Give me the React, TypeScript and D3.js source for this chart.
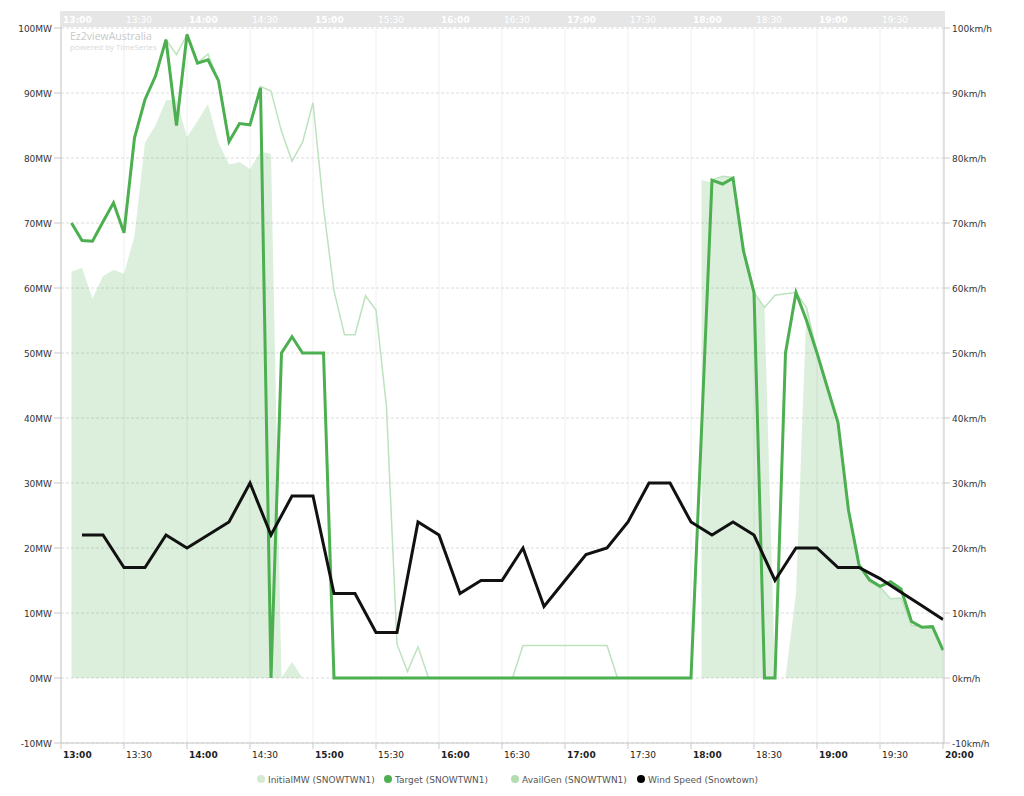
import React from "react";
import * as d3 from "d3";

// ---------- DATA ----------
// 5-minute series, first slot 13:05, last slot 20:00 (84 slots)
const SERIES_START_MIN = 5; // minutes after 13:00
const SERIES_STEP_MIN = 5;

const targetMW: number[] = [
  70, 67.3, 67.2, 70.2, 73.1, 68.5, 83.1, 89, 92.6, 98.2, 85, 99, // 13:05-14:00
  94.6, 95.1, 91.9, 82.5, 85.3, 85.1, 90.8, 0, 50, 52.5, 50, 50, // 14:05-15:00
  50, 0, 0, 0, 0, 0, 0, 0, 0, 0, 0, 0, // 15:05-16:00
  0, 0, 0, 0, 0, 0, 0, 0, 0, 0, 0, 0, // 16:05-17:00
  0, 0, 0, 0, 0, 0, 0, 0, 0, 0, 0, 0, // 17:05-18:00
  38, 76.6, 76, 76.9, 65.7, 59.3, 0, 0, 50, 59.3, 55, 50, // 18:05-19:00
  44.6, 39.3, 25.8, 17.4, 15.1, 14.1, 14.8, 13.7, 8.7, 7.8, 7.9, 4.3, // 19:05-20:00
];

const initialMW: number[] = [
  70, 67.3, 67.2, 70.2, 73.1, 68.5, 83.1, 89, 92.6, 98.2, 95.9, 99,
  94.6, 96, 91.9, 82.5, 85.3, 85.1, 91, 90.3, 84.1, 79.5, 82.4, 88.5,
  72.4, 59.6, 52.8, 52.8, 58.8, 56.6, 41.7, 5.2, 1, 4.8, 0, 0,
  0, 0, 0, 0, 0, 0, 0, 5, 5, 5, 5, 5,
  5, 5, 5, 5, 0, 0, 0, 0, 0, 0, 0, 0,
  38, 76.6, 77.2, 77, 65.7, 59.3, 57, 58.9, 59.1, 59.3, 57, 50,
  45, 39.3, 25.8, 17.4, 14.8, 14, 12.2, 12.3, 8.1, 7.9, 7.9, 4.3,
];

const availGenMW: (number | null)[] = [
  62.5, 63.1, 58.4, 61.8, 62.8, 62.2, 68, 82.4, 85, 88.9, 89, 83.2,
  85.7, 88.3, 82.4, 79, 79.4, 78.3, 81, 80.6, 0, 2.5, 0, null,
  null, null, null, null, null, null, null, null, null, null, null, null,
  null, null, null, null, null, null, null, null, null, null, null, null,
  null, null, null, null, null, null, null, null, null, null, null, null,
  76.6, 76.2, 77.2, 77, 65.7, 59.5, 57, 0, 0, 13, 57, 50,
  45, 39.3, 25.8, 17.4, 14.8, 14, 12.2, 12.3, 8.1, 7.9, 7.9, 4.3,
];

// wind speed every 10 minutes, 13:10 -> 20:00
const WIND_START_MIN = 10;
const WIND_STEP_MIN = 10;
const windSpeedKmh: number[] = [
  22, 22, 17, 17, 22, 20,
  22, 24, 30, 22, 28, 28,
  13, 13, 7, 7, 24, 22,
  13, 15, 15, 20, 11, 15,
  19, 20, 24, 30, 30, 24,
  22, 24, 22, 15, 20, 20,
  17, 17, 15.3, 13.2, 11.1, 9,
];

const timeTickLabels = [
  "13:00", "13:30", "14:00", "14:30", "15:00", "15:30", "16:00", "16:30",
  "17:00", "17:30", "18:00", "18:30", "19:00", "19:30", "20:00",
];
const mwTicks = [-10, 0, 10, 20, 30, 40, 50, 60, 70, 80, 90, 100];
const kmhTicks = [-10, 0, 10, 20, 30, 40, 50, 60, 70, 80, 90, 100];

const legendItems = [
  { label: "InitialMW (SNOWTWN1)", color: "#d3ebd3" },
  { label: "Target (SNOWTWN1)", color: "#4caf50" },
  { label: "AvailGen (SNOWTWN1)", color: "#b3dcb3" },
  { label: "Wind Speed (Snowtown)", color: "#000000" },
];

// ---------- LAYOUT ----------
const W = 1024;
const H = 796;
const PLOT_L = 61;
const PLOT_R = 943;
const PLOT_T = 28;
const PLOT_B = 743;
const FONT = "'DejaVu Sans', Verdana, sans-serif";
const LEGEND_X = [261, 388, 515, 641];
const LEGEND_Y = 779;

function toMin(label: string) {
  const [h, m] = label.split(":").map(Number);
  return (h - 13) * 60 + m;
}

export default function App() {
  const x = d3.scaleLinear().domain([0, 420]).range([PLOT_L, PLOT_R]);
  const yL = d3.scaleLinear().domain([-10, 100]).range([PLOT_B, PLOT_T]);
  const yR = d3.scaleLinear().domain([-10, 100]).range([PLOT_B, PLOT_T]);

  const t5 = (i: number) => SERIES_START_MIN + i * SERIES_STEP_MIN;
  const t10 = (i: number) => WIND_START_MIN + i * WIND_STEP_MIN;

  const line = d3
    .line<number>()
    .x((_, i) => x(t5(i)))
    .y((d) => yL(d));

  const area = d3
    .area<number | null>()
    .defined((d) => d != null)
    .x((_, i) => x(t5(i)))
    .y0(yL(0))
    .y1((d) => yL(d as number));

  const windLine = d3
    .line<number>()
    .x((_, i) => x(t10(i)))
    .y((d) => yR(d));

  return (
    <svg
      width={W}
      height={H}
      style={{ position: "absolute", left: 0, top: 0, background: "#fff" }}
      fontFamily={FONT}
    >
      {/* header band */}
      <rect x={PLOT_L - 1} y={11} width={PLOT_R - PLOT_L + 3} height={16} fill="#e6e6e6" />
      {timeTickLabels.map((lab) => {
        const m = toMin(lab);
        if (m >= 420) return null;
        return (
          <text
            key={"h" + lab}
            x={x(m) + 2}
            y={22.5}
            fontSize={9}
            fill="#ffffff"
            fontWeight={lab.endsWith(":00") ? "bold" : "normal"}
          >
            {lab}
          </text>
        );
      })}

      {/* vertical grid */}
      {timeTickLabels.map((lab) => (
        <line
          key={"vg" + lab}
          x1={x(toMin(lab))}
          x2={x(toMin(lab))}
          y1={PLOT_T}
          y2={PLOT_B}
          stroke="#efefef"
          strokeWidth={1}
        />
      ))}
      {/* horizontal grid */}
      {mwTicks.map((v) => (
        <line
          key={"hg" + v}
          x1={PLOT_L}
          x2={PLOT_R + 1}
          y1={yL(v)}
          y2={yL(v)}
          stroke="#dcdcdc"
          strokeDasharray="3,2"
          strokeWidth={1}
        />
      ))}

      {/* watermark */}
      <text x={70} y={40} fontSize={10.5} fill="#c8c8c8" fontFamily="'Open Sans', sans-serif">
        Ez2viewAustralia
      </text>
      <text x={70} y={50} fontSize={8} fill="#d8d8d8" fontFamily="'Open Sans', sans-serif">
        powered by TimeSeries
      </text>

      {/* series */}
      <path d={area(availGenMW) || ""} fill="rgba(76,175,80,0.2)" stroke="none" />
      <path d={line(initialMW) || ""} fill="none" stroke="#bde2be" strokeWidth={1.5} />
      <path d={line(targetMW) || ""} fill="none" stroke="#4caf50" strokeWidth={3} />
      <path d={windLine(windSpeedKmh) || ""} fill="none" stroke="#111" strokeWidth={3} />

      {/* axes */}
      <line x1={PLOT_L} x2={PLOT_L} y1={PLOT_T - 1} y2={PLOT_B} stroke="#c8c8c8" />
      <line x1={PLOT_R + 1} x2={PLOT_R + 1} y1={PLOT_T - 1} y2={PLOT_B} stroke="#c8c8c8" />
      <line x1={PLOT_L} x2={PLOT_R + 1} y1={PLOT_B} y2={PLOT_B} stroke="#c8c8c8" />

      {mwTicks.map((v) => (
        <g key={"yl" + v}>
          <line x1={PLOT_L - 7} x2={PLOT_L} y1={yL(v)} y2={yL(v)} stroke="#c8c8c8" />
          <text x={PLOT_L - 9} y={yL(v) + 3.5} fontSize={9} fill="#333" textAnchor="end">
            {v + "MW"}
          </text>
        </g>
      ))}
      {kmhTicks.map((v) => (
        <g key={"yr" + v}>
          <line x1={PLOT_R + 1} x2={PLOT_R + 7} y1={yR(v)} y2={yR(v)} stroke="#c8c8c8" />
          <text x={PLOT_R + 9} y={yR(v) + 3.5} fontSize={9} fill="#333">
            {v + "km/h"}
          </text>
        </g>
      ))}
      {timeTickLabels.map((lab) => {
        const xx = x(toMin(lab));
        return (
          <g key={"xt" + lab}>
            <line x1={xx} x2={xx} y1={PLOT_B} y2={PLOT_B + 6} stroke="#c8c8c8" />
            <text
              x={xx + 2}
              y={PLOT_B + 15}
              fontSize={9}
              fill="#222"
              fontWeight={lab.endsWith(":00") ? "bold" : "normal"}
            >
              {lab}
            </text>
          </g>
        );
      })}

      {/* legend */}
      {legendItems.map((it, i) => (
        <g key={"lg" + i}>
          <circle cx={LEGEND_X[i]} cy={LEGEND_Y} r={4} fill={it.color} />
          <text x={LEGEND_X[i] + 7} y={LEGEND_Y + 3.5} fontSize={9} fill="#555">
            {it.label}
          </text>
        </g>
      ))}
    </svg>
  );
}
